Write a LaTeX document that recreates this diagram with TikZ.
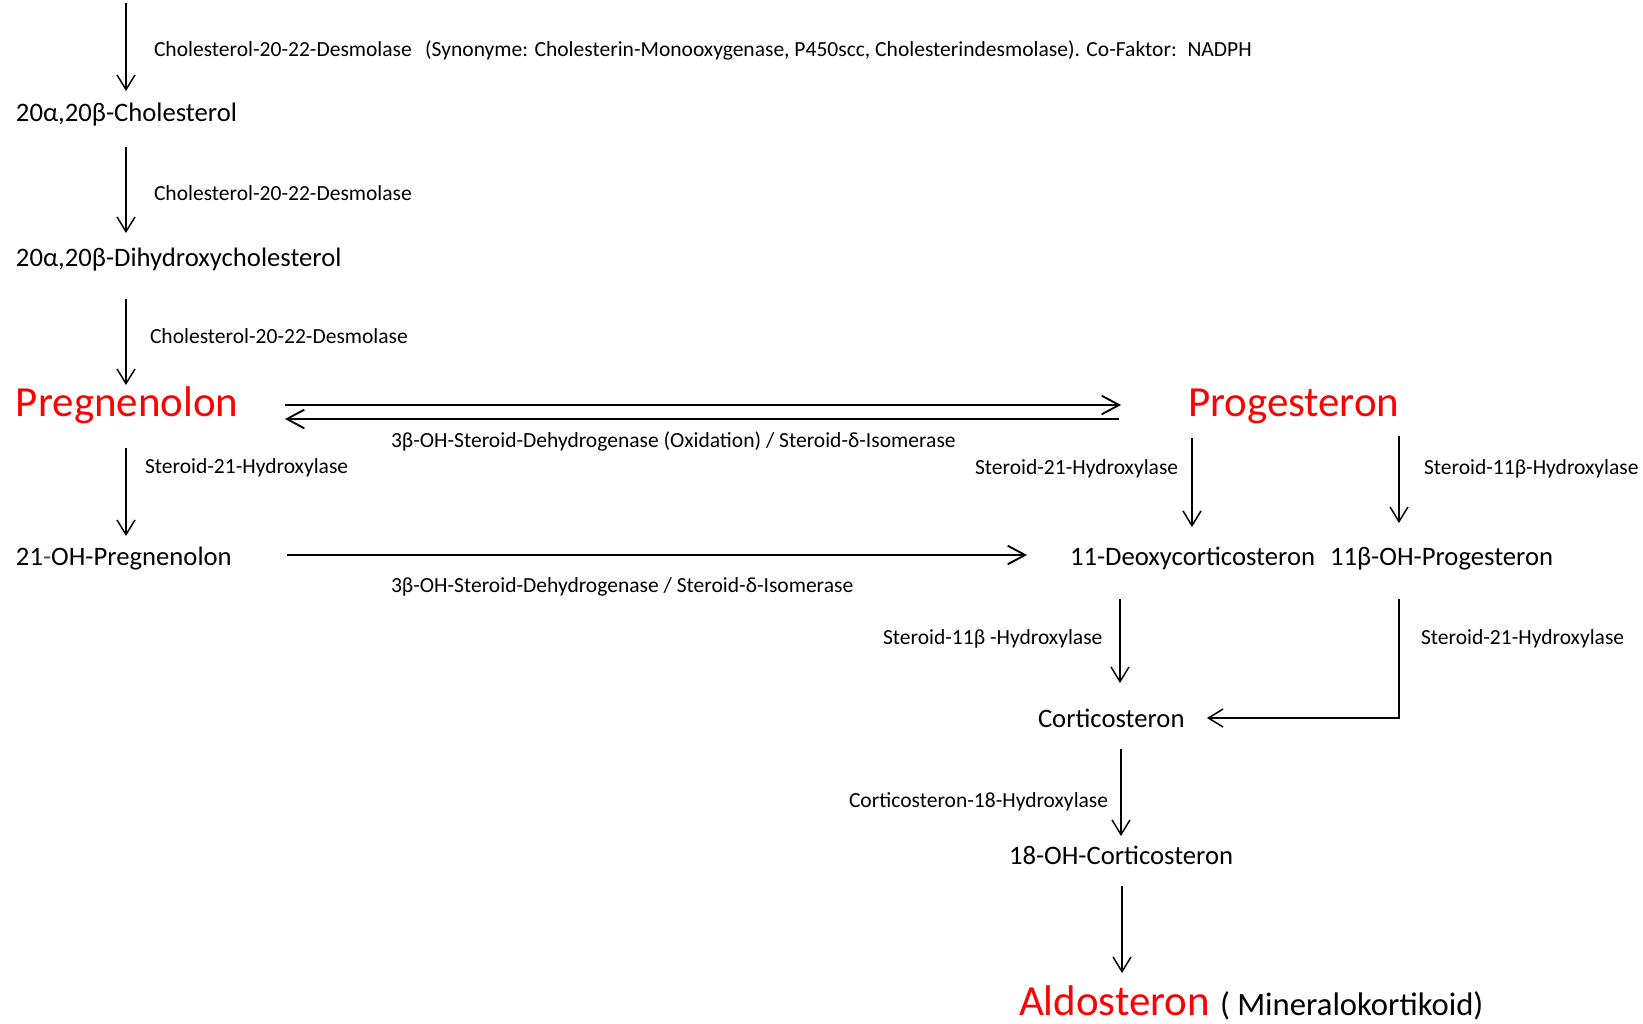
\documentclass[tikz,border=0pt]{standalone}
\usepackage{fontspec}
\setmainfont{Carlito}
\usetikzlibrary{arrows.meta,calc}
\definecolor{hyph}{RGB}{40,80,160}
\begin{document}
\begin{tikzpicture}[x=0.75pt,y=-0.75pt,
  lbl/.style={inner sep=0pt,outer sep=0pt,anchor=base west,font=\fontsize{16.15pt}{18pt}\selectfont},
  cmp/.style={inner sep=0pt,outer sep=0pt,anchor=base west,font=\fontsize{20pt}{24pt}\selectfont},
  key/.style={inner sep=0pt,outer sep=0pt,anchor=base west,text=red,font=\fontsize{32.2pt}{36pt}\selectfont},
  arr/.style={line width=1.1pt,-{Straight Barb[length=11pt,width=13.5pt]}},
  harr/.style={line width=1.4pt,-{Straight Barb[length=13pt,width=14pt]}}]
\useasboundingbox[fill=white] (0,0) rectangle (1643,1024);

% nodes
\coordinate (top) at (126,3);
\node[lbl] (lab1) at (154,57) {Cholesterol-20-22-Desmolase\hspace{10pt}(Synonyme: Cholesterin-Monooxygenase, P450scc, Cholesterindesmolase). Co-Faktor:\hspace{8pt}NADPH};
\node[cmp] (chol) at (16,122) {20α,20β-Cholesterol};
\node[lbl] (lab2) at (154,200) {Cholesterol-20-22-Desmolase};
\node[cmp] (dihyd) at (16,266) {20α,20β-Dihydroxycholesterol};
\node[lbl] (lab3) at (150,343) {Cholesterol-20-22-Desmolase};
\node[key] (preg) at (16,416) {Pregnenolon};
\node[key] (prog) at (1188,416) {Progesteron};
\node[lbl] (labox) at (391,447) {3β-OH-Steroid-Dehydrogenase (Oxidation) / Steroid-δ-Isomerase};
\node[lbl] (lab21a) at (145,473) {Steroid-21-Hydroxylase};
\node[lbl] (lab21b) at (975,474) {Steroid-21-Hydroxylase};
\node[lbl] (lab11a) at (1424,474) {Steroid-11β-Hydroxylase};
\node[cmp] (oh21) at (16,565) {21{\color{hyph}-}OH-Pregnenolon};
\node[cmp] (deoxy) at (1070,565) {11-Deoxycorticosteron};
\node[cmp] (ohprog) at (1330,565) {11β-OH-Progesteron};
\node[lbl] (lab3b) at (391,592) {3β-OH-Steroid-Dehydrogenase / Steroid-δ-Isomerase};
\node[lbl] (lab11b) at (883,644) {Steroid-11β -Hydroxylase};
\node[lbl] (lab21c) at (1421,644) {Steroid-21-Hydroxylase};
\node[cmp] (cort) at (1038,727) {Corticosteron};
\node[lbl] (lab18) at (849,807) {Corticosteron-18-Hydroxylase};
\node[cmp] (oh18) at (1009,864) {18-OH-Corticosteron};
\node[key] (aldo) at (1019,1015) {Aldosteron};
\node[inner sep=0pt,outer sep=0pt,anchor=base west,font=\fontsize{24.5pt}{28pt}\selectfont] (mineral) at (1220,1015) {( Mineralokortikoid)};

% connectors
\draw[arr] (top) -- ($(chol.base west)+(110,-31)$);
\draw[arr] ($(chol.base west)+(110,25)$) -- ($(dihyd.base west)+(110,-33)$);
\draw[arr] ($(dihyd.base west)+(110,33)$) -- ($(preg.base west)+(110,-31)$);
\draw[arr] ($(preg.base west)+(110,32)$) -- ($(oh21.base west)+(110,-29)$);
\draw[harr] ($(preg.base west)+(269,-11)$) -- ($(prog.base west)+(-67,-11)$);
\draw[harr] ($(prog.base west)+(-69,3)$) -- ($(preg.base west)+(269,3)$);
\draw[harr] ($(oh21.base west)+(271,-10)$) -- ($(deoxy.base west)+(-43,-10)$);
\draw[arr] ($(prog.base west)+(4,22)$) -- ($(deoxy.base west)+(122,-38)$);
\draw[arr] ($(prog.base west)+(211,20)$) -- ($(ohprog.base west)+(69,-42)$);
\draw[arr] ($(deoxy.base west)+(50,34)$) -- ($(cort.base west)+(82,-44)$);
\draw[arr] ($(ohprog.base west)+(69,34)$) |- ($(cort.base west)+(169,-9)$);
\draw[arr] ($(cort.base west)+(83,22)$) -- ($(oh18.base west)+(112,-28)$);
\draw[arr] ($(oh18.base west)+(113,22)$) -- ($(aldo.base west)+(103,-42)$);
\end{tikzpicture}
\end{document}
